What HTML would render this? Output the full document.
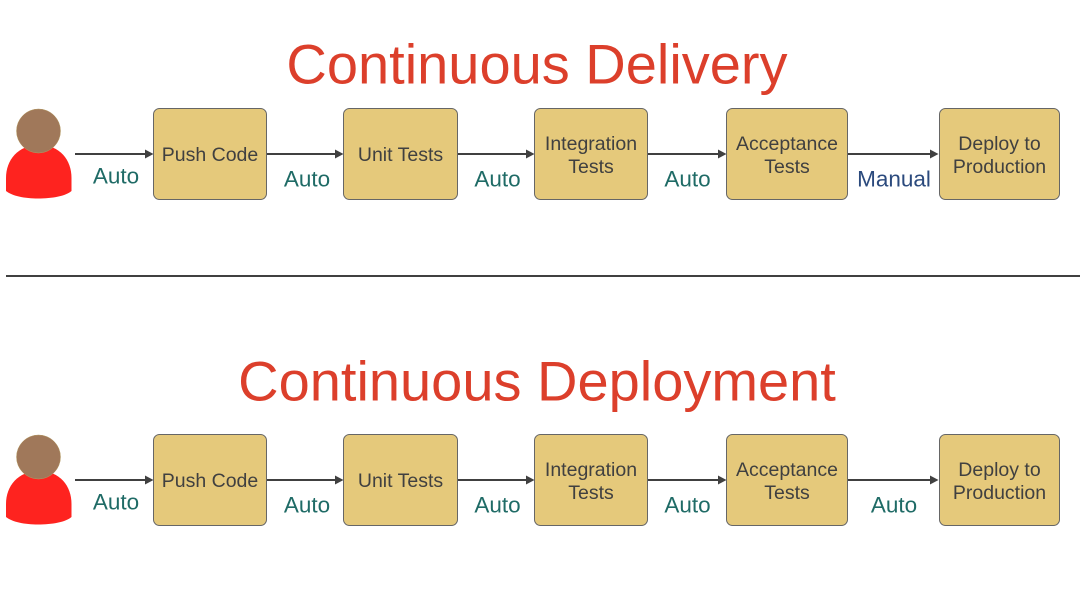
<!DOCTYPE html>
<html><head><meta charset="utf-8">
<style>html,body{margin:0;padding:0;background:#fff;width:1080px;height:608px;overflow:hidden}svg{display:block}text{font-family:"Liberation Sans",Arial,sans-serif}</style>
</head><body>
<svg width="1080" height="608" viewBox="0 0 1080 608" xmlns="http://www.w3.org/2000/svg">
<defs>
<g id="person">
<path d="M6 178 C6 160 18 145 39 145 C60 145 71.500 160 71.500 178 L71.500 191 C66 196 52 198.500 38 198.500 C25 198.500 12 196 6 191 Z" fill="#fe231f"/>
<circle cx="38.500" cy="131" r="22" fill="#a0785a" stroke="#b59a62" stroke-width="0.500"/>
</g>
<g id="arrows" fill="#404040" stroke="none">
<rect x="75" y="153" width="70" height="2"/><path d="M145 149.500 L153.500 154 L145 158.500 Z"/>
<rect x="267" y="153" width="69" height="2"/><path d="M335 149.500 L343.500 154 L335 158.500 Z"/>
<rect x="458" y="153" width="69" height="2"/><path d="M526 149.500 L534.500 154 L526 158.500 Z"/>
<rect x="648" y="153" width="70" height="2"/><path d="M718 149.500 L726.500 154 L718 158.500 Z"/>
<rect x="848" y="153" width="83" height="2"/><path d="M930 149.500 L938.500 154 L930 158.500 Z"/>
</g>
<g id="boxes" fill="#e5c97b" stroke="#666" stroke-width="1">
<rect x="153.500" y="108.500" width="113" height="91" rx="6"/>
<rect x="343.500" y="108.500" width="114" height="91" rx="6"/>
<rect x="534.500" y="108.500" width="113" height="91" rx="6"/>
<rect x="726.500" y="108.500" width="121" height="91" rx="6"/>
<rect x="939.500" y="108.500" width="120" height="91" rx="6"/>
</g>
<g id="labels" fill="#404040" font-size="19.500" text-anchor="middle">
<text x="210" y="161">Push Code</text>
<text x="400.500" y="161">Unit Tests</text>
<text x="591" y="150">Integration</text>
<text x="591" y="173">Tests</text>
<text x="787" y="150">Acceptance</text>
<text x="787" y="173">Tests</text>
<text x="999.500" y="150">Deploy to</text>
<text x="999.500" y="173">Production</text>
</g>
</defs>

<text x="537" y="83.500" font-size="56" fill="#dc3f2b" text-anchor="middle">Continuous Delivery</text>
<use href="#person"/>
<use href="#arrows"/>
<use href="#boxes"/>
<use href="#labels"/>
<g font-size="22.500" fill="#1f6b66" text-anchor="middle">
<text x="116" y="183.500">Auto</text>
<text x="307" y="186.500">Auto</text>
<text x="497.500" y="186.500">Auto</text>
<text x="687.500" y="186.500">Auto</text>
</g>
<text x="894" y="186.500" font-size="22.500" fill="#2b4a7d" text-anchor="middle">Manual</text>

<rect x="6" y="275" width="1074" height="2" fill="#404040"/>

<text x="537" y="400.500" font-size="56" fill="#dc3f2b" text-anchor="middle">Continuous Deployment</text>
<g transform="translate(0,326)">
<use href="#person"/>
<use href="#arrows"/>
<use href="#boxes"/>
<use href="#labels"/>
</g>
<g font-size="22.500" fill="#1f6b66" text-anchor="middle">
<text x="116" y="509.500">Auto</text>
<text x="307" y="512.500">Auto</text>
<text x="497.500" y="512.500">Auto</text>
<text x="687.500" y="512.500">Auto</text>
<text x="894" y="512.500">Auto</text>
</g>
</svg>
</body></html>
